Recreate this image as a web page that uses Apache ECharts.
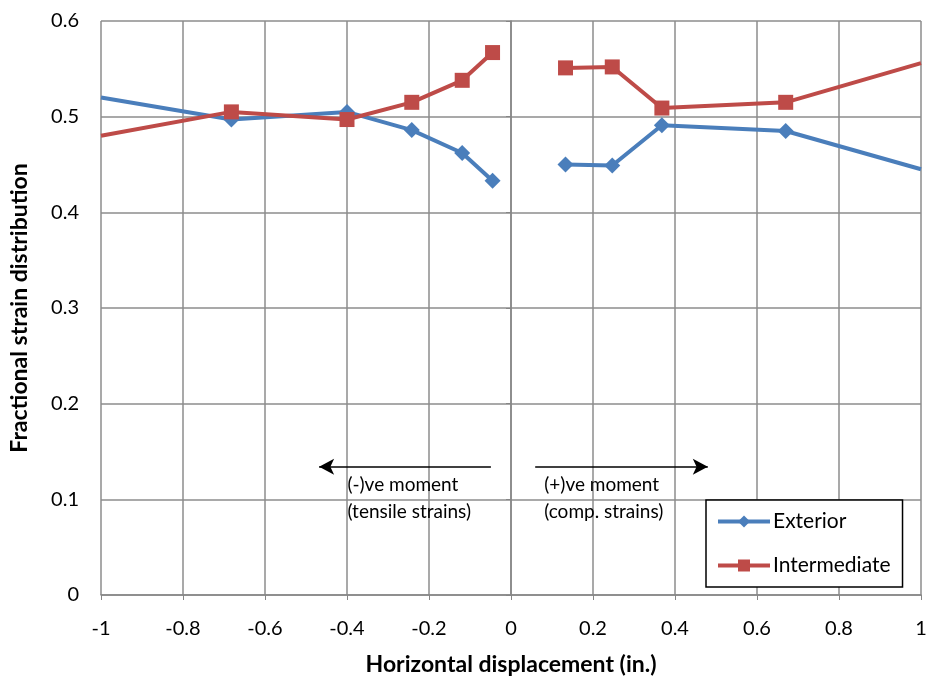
<!DOCTYPE html>
<html><head><meta charset="utf-8">
<script src="https://cdn.jsdelivr.net/npm/echarts@6/dist/echarts.min.js"></script>
<style>html,body{margin:0;padding:0;background:#fff}#c{width:935px;height:683px}</style>
</head><body><div id="c"></div>
<script>
// Data (null marks the gap between the two branches)
const exteriorX = [-1, -0.682, -0.40, -0.242, -0.119, -0.045, null, 0.133, 0.247, 0.368, 0.670, 1];
const exteriorY = [0.520, 0.497, 0.505, 0.486, 0.462, 0.433, null, 0.450, 0.449, 0.491, 0.485, 0.445];
const intermediateX = [-1, -0.682, -0.40, -0.242, -0.119, -0.045, null, 0.133, 0.247, 0.368, 0.670, 1];
const intermediateY = [0.480, 0.505, 0.497, 0.515, 0.538, 0.567, null, 0.551, 0.552, 0.509, 0.515, 0.556];
// Points at the plot edges are line ends without markers
const edgeMarker = [false, true, true, true, true, true, false, true, true, true, true, false];
const seriesNames = ['Exterior', 'Intermediate'];
const xTicks = { min: -1, max: 1, interval: 0.2 };
const yTicks = { min: 0, max: 0.6, interval: 0.1 };
// Annotations (data coordinates)
const arrowLeft = [[-0.049, 0.134], [-0.468, 0.134]];
const arrowRight = [[0.059, 0.134], [0.48, 0.134]];
const noteLeft = { x: -0.399, lines: ['(-)ve moment', '(tensile strains)'] };
const noteRight = { x: 0.081, lines: ['(+)ve moment', '(comp. strains)'] };
const noteY = [0.115, 0.087];

const FONT = 'Lato, "Noto Sans", sans-serif';
function build(xs, ys, size) {
  return xs.map((x, i) => {
    if (x === null) return { value: ['-', '-'] };
    return { value: [x, ys[i]], symbolSize: edgeMarker[i] ? size : 0 };
  });
}
const chart = echarts.init(document.getElementById('c'), null, { renderer: 'canvas' });
const option = {
  animation: false,
  backgroundColor: '#fff',
  grid: { left: 101, right: 14, top: 21, bottom: 88, containLabel: false },
  xAxis: {
    type: 'value', min: xTicks.min, max: xTicks.max, interval: xTicks.interval,
    name: 'Horizontal displacement (in.)', nameLocation: 'middle', nameGap: 58,
    nameTextStyle: { fontFamily: FONT, fontWeight: 'bold', fontSize: 23, color: '#000' },
    axisLine: { onZero: false, lineStyle: { color: '#868686', width: 1.5 } },
    axisTick: { show: true, inside: false, length: 5, lineStyle: { color: '#868686' } },
    axisLabel: { fontFamily: FONT, fontSize: 20, color: '#000', margin: 24,
      formatter: v => String(Math.round(v * 10) / 10) },
    splitLine: { show: true, lineStyle: { color: '#8c8c8c', width: 1.5 } }
  },
  yAxis: {
    type: 'value', min: yTicks.min, max: yTicks.max, interval: yTicks.interval,
    name: 'Fractional strain distribution', nameLocation: 'middle', nameGap: 70, nameRotate: 90,
    nameTextStyle: { fontFamily: FONT, fontWeight: 'bold', fontSize: 23, color: '#000' },
    axisLine: { show: true, lineStyle: { color: '#868686', width: 1.5 } },
    axisTick: { show: true, length: 5, lineStyle: { color: '#868686' } },
    axisLabel: { fontFamily: FONT, fontSize: 20, color: '#000', margin: 22,
      formatter: v => String(Math.round(v * 10) / 10) },
    splitLine: { show: true, lineStyle: { color: '#8c8c8c', width: 1.5 } }
  },
  legend: {
    orient: 'vertical', left: 706, top: 500,
    backgroundColor: '#fff', borderColor: '#000', borderWidth: 1.5, borderRadius: 0,
    padding: [11, 12, 11, 10], itemGap: 23, itemWidth: 52, itemHeight: 15,
    lineStyle: { width: 4 },
    textStyle: { fontFamily: FONT, fontSize: 21, color: '#000', padding: [0, 0, 0, -2] },
    data: seriesNames.map(n => ({ name: n, lineStyle: { width: 4 } }))
  },
  series: [
    {
      name: seriesNames[0], type: 'line', data: build(exteriorX, exteriorY, 16),
      symbol: 'diamond', symbolSize: 16, showSymbol: true, connectNulls: false,
      color: '#4A7EBB', lineStyle: { width: 4, color: '#4A7EBB' },
      itemStyle: { color: '#4A7EBB' }, z: 3,
      markLine: {
        silent: true, symbol: ['none', 'arrow'], symbolSize: [12, 15],
        lineStyle: { color: '#000', width: 1.5, type: 'solid' }, label: { show: false },
        data: [
          [{ coord: arrowLeft[0] }, { coord: arrowLeft[1] }],
          [{ coord: arrowRight[0] }, { coord: arrowRight[1] }]
        ]
      }
    },
    {
      name: seriesNames[1], type: 'line', data: build(intermediateX, intermediateY, 15),
      symbol: 'rect', symbolSize: 15, showSymbol: true, connectNulls: false,
      color: '#BE4B48', lineStyle: { width: 4, color: '#BE4B48' },
      itemStyle: { color: '#BE4B48' }, z: 4
    }
  ]
};
chart.setOption(option);
function notes() {
  const els = [];
  [noteLeft, noteRight].forEach(n => {
    n.lines.forEach((t, i) => {
      const p = chart.convertToPixel({ gridIndex: 0 }, [n.x, noteY[i]]);
      els.push({ type: 'text', x: p[0], y: p[1], z: 10,
        style: { text: t, fontFamily: FONT, fontSize: 19, fill: '#000', align: 'left', verticalAlign: 'middle' } });
    });
  });
  return els;
}
chart.setOption({ graphic: notes() });
</script></body></html>
